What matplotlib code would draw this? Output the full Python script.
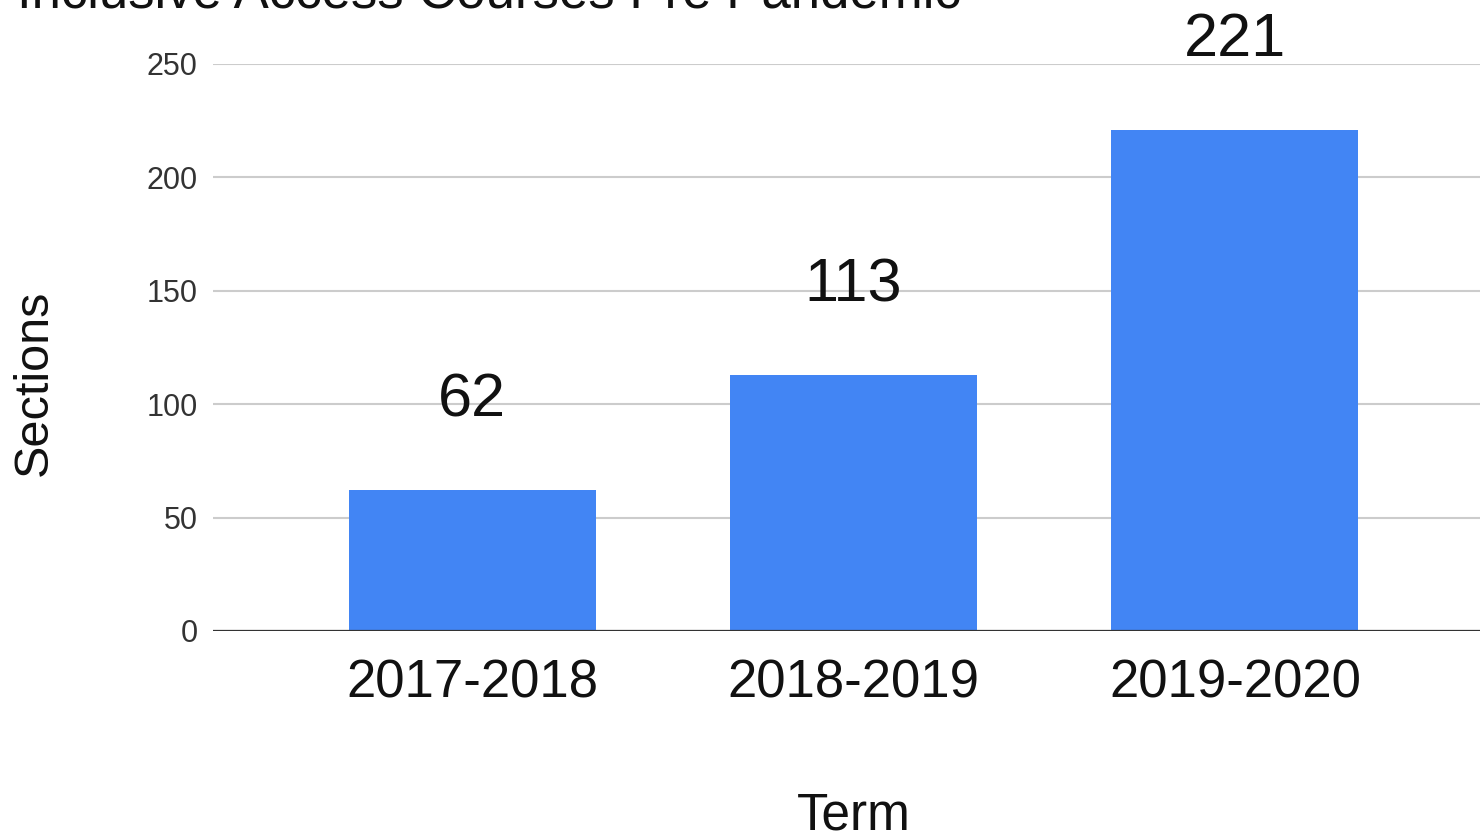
import matplotlib
matplotlib.use("Agg")
import matplotlib.pyplot as plt

plt.rcParams['font.family'] = ['Liberation Sans', 'DejaVu Sans']

terms = ["2017-2018", "2018-2019", "2019-2020"]
sections = [62, 113, 221]
yticks = [0, 50, 100, 150, 200, 250]

W, H = 1480, 836
fig = plt.figure(figsize=(W / 100, H / 100), dpi=100)
ax = fig.add_axes([213 / W, 1 - 631 / H, 1 - 213 / W, (631 - 64) / H])

x = list(range(len(terms)))
ax.bar(x, sections, width=0.648, color="#4285F4", zorder=3)

for xi, v in zip(x, sections):
    ax.annotate(str(v), (xi, v), xytext=(0, 53), textcoords="offset points",
                ha="center", va="baseline", fontsize=44, color="#111111")

ax.set_xlim(-0.68, 2.643)
ax.set_ylim(0, 250)
ax.set_yticks(yticks)
ax.set_xticks(x)
ax.set_xticklabels(terms, fontsize=38, color="#111111")
ax.tick_params(axis="x", length=0, pad=20)
ax.tick_params(axis="y", length=0, pad=11, labelsize=22, labelcolor="#333333")
ax.grid(axis="y", color="#cccccc", linewidth=1.5, zorder=0)
for s in ax.spines.values():
    s.set_visible(False)
ax.axhline(0, color="#333333", linewidth=1.6, zorder=4)

fig.text(17 / W, 1 - 7 / H, "Inclusive Access Courses Pre Pandemic",
         ha="left", va="baseline", fontsize=38, color="#111111")
fig.text(854 / W, 1 - 830 / H, "Term", ha="center", va="baseline",
         fontsize=37, color="#111111")
fig.text(57 / W, 1 - 383 / H, "Sections", ha="right", va="center",
         rotation=90, fontsize=35, color="#111111")

fig.savefig("out.png", dpi=100)
